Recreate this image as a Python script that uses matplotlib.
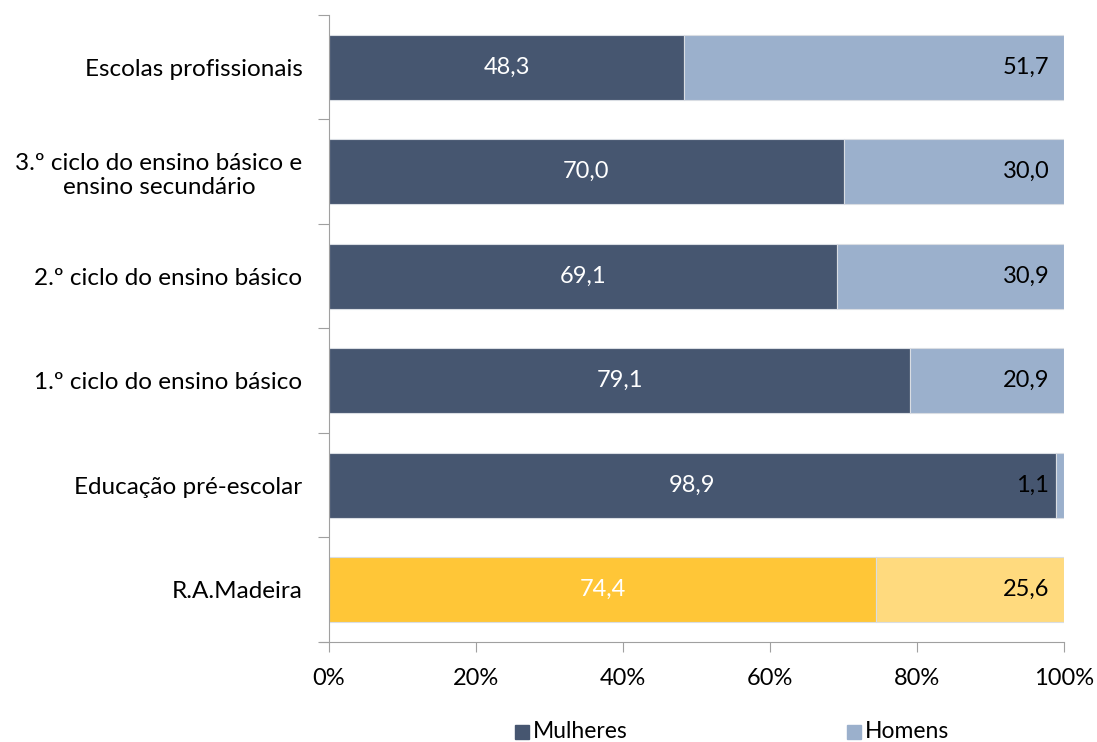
import matplotlib.pyplot as plt
import numpy as np

categories = ["R.A.Madeira", "Educação pré-escolar", "1.º ciclo do ensino básico",
              "2.º ciclo do ensino básico", "3.º ciclo do ensino básico e\nensino secundário",
              "Escolas profissionais"]
mulheres = [74.4, 98.9, 79.1, 69.1, 70.0, 48.3]
homens = [25.6, 1.1, 20.9, 30.9, 30.0, 51.7]
xticks = [0, 20, 40, 60, 80, 100]

plt.rcParams['font.family'] = ['Lato', 'DejaVu Sans']

dark = "#465670"
light = "#9BB0CC"
gold = "#FFC637"
gold_light = "#FFDA7E"

fig = plt.figure(figsize=(10.97, 7.42), dpi=100)
ax = fig.add_axes([0.2999, 0.1348, 0.6701, 0.845])

y = np.arange(len(categories))
c1 = [gold] + [dark] * (len(categories) - 1)
c2 = [gold_light] + [light] * (len(categories) - 1)
ax.barh(y, mulheres, height=0.62, color=c1, edgecolor="#d9dde3", linewidth=0.8)
ax.barh(y, homens, left=mulheres, height=0.62, color=c2, edgecolor="#d9dde3", linewidth=0.8)

for i in range(len(categories)):
    ax.text(mulheres[i] / 2, y[i], f"{mulheres[i]:.1f}".replace(".", ","),
            ha="center", va="center", color="white", fontsize=17)
    ax.text(98, y[i], f"{homens[i]:.1f}".replace(".", ","),
            ha="right", va="center", color="black", fontsize=17)

ax.set_xlim(0, 100)
ax.set_ylim(-0.5, len(categories) - 0.5)
ax.set_xticks(xticks)
ax.set_xticklabels([f"{v}%" for v in xticks], fontsize=17)
ax.set_yticks(np.arange(-0.5, len(categories)), minor=False)
ax.set_yticklabels([])
ax.set_yticks(y, minor=True)
ax.set_yticklabels(categories, minor=True, fontsize=17.5)
ax.tick_params(axis="y", which="minor", length=0, pad=19)
ax.tick_params(axis="y", which="major", length=8, color="#a0a0a0")
ax.tick_params(axis="x", length=7, color="#a0a0a0", pad=12)
for s in ["top", "right"]:
    ax.spines[s].set_visible(False)
for s in ["left", "bottom"]:
    ax.spines[s].set_color("#a0a0a0")
ax.spines["bottom"].set_bounds(-1.2, 100)
ax.spines["bottom"].set_clip_on(False)

# centred multi-line category label
fig.canvas.draw()
for t in ax.yaxis.get_minorticklabels():
    t.set_multialignment("center")

fig.patches.append(plt.Rectangle((515 / 1097, 1 - 739 / 742), 14 / 1097, 14 / 742,
                                 transform=fig.transFigure, color=dark))
fig.text(533 / 1097, 1 - 731 / 742, "Mulheres", fontsize=16.5, va="center")
fig.patches.append(plt.Rectangle((847 / 1097, 1 - 739 / 742), 14 / 1097, 14 / 742,
                                 transform=fig.transFigure, color=light))
fig.text(865 / 1097, 1 - 731 / 742, "Homens", fontsize=16.5, va="center")

fig.savefig("out.png", dpi=100)
